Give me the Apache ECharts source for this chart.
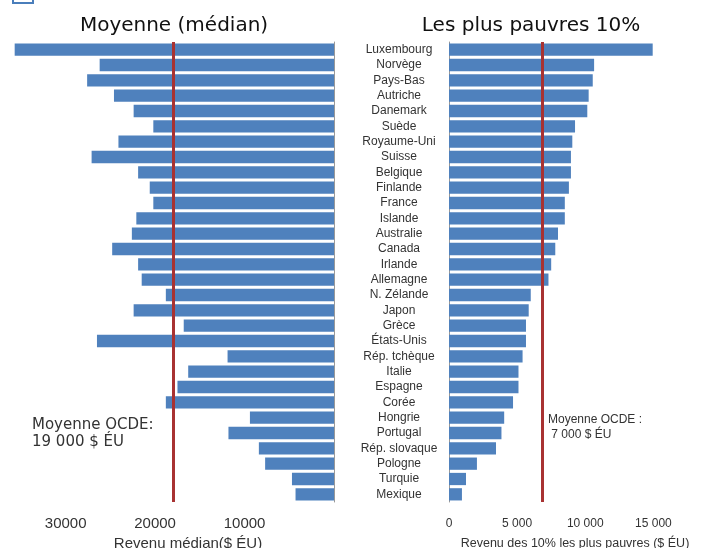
<!DOCTYPE html>
<html>
<head>
<meta charset="utf-8">
<script src="https://cdn.jsdelivr.net/npm/echarts@6/dist/echarts.min.js"></script>
<style>
  html, body { margin: 0; padding: 0; background: #fff; }
  #chart { width: 702px; height: 548px; }
</style>
</head>
<body>
<div id="chart"></div>
<script>
// Countries, top to bottom
const countries = [
  "Luxembourg", "Norvège", "Pays-Bas", "Autriche", "Danemark", "Suède",
  "Royaume-Uni", "Suisse", "Belgique", "Finlande", "France", "Islande",
  "Australie", "Canada", "Irlande", "Allemagne", "N. Zélande", "Japon",
  "Grèce", "États-Unis", "Rép. tchèque", "Italie", "Espagne", "Corée",
  "Hongrie", "Portugal", "Rép. slovaque", "Pologne", "Turquie", "Mexique"
];

// Revenu médian ($ ÉU)
const medianIncome = [
  35700, 26200, 27600, 24600, 22400, 20200,
  24100, 27100, 21900, 20600, 20200, 22100,
  22600, 24800, 21900, 21500, 18800, 22400,
  16800, 26500, 11900, 16300, 17500, 18800,
  9400, 11800, 8400, 7700, 4700, 4300
];

// Revenu des 10% les plus pauvres ($ ÉU)
const poorestIncome = [
  14950, 10650, 10550, 10250, 10150, 9250,
  9050, 8950, 8950, 8800, 8500, 8500,
  8000, 7800, 7500, 7300, 6000, 5850,
  5650, 5650, 5400, 5100, 5100, 4700,
  4050, 3850, 3450, 2050, 1250, 950
];

// OECD average lines
const oecdMedianLine = 18000;
const oecdPoorLine = 6850;

const barColor = "#4f81bd";
const lineColor = "#a83232";
const textColor = "#333";

let dom = document.getElementById("chart");
let myChart = echarts.init(dom, null, { renderer: "canvas" });

const fmtSpace = (v) => String(v).replace(/\B(?=(\d{3})+(?!\d))/g, " ");

let option = {
  animation: false,
  textStyle: { fontFamily: "Liberation Sans, Arial, sans-serif" },
  title: [
    {
      text: "Moyenne (médian)",
      left: 174, top: 16, textAlign: "center", padding: 0,
      textStyle: { fontFamily: "DejaVu Sans", fontSize: 20, fontWeight: "normal", color: "#111" }
    },
    {
      text: "Les plus pauvres 10%",
      left: 531, top: 16, textAlign: "center", padding: 0,
      textStyle: { fontFamily: "DejaVu Sans", fontSize: 20, fontWeight: "normal", color: "#111" }
    }
  ],
  grid: [
    { left: 12, right: 368, top: 42, bottom: 46, outerBoundsMode: "none" },
    { left: 449, right: 35, top: 42, bottom: 46, outerBoundsMode: "none" }
  ],
  xAxis: [
    {
      gridIndex: 0,
      type: "value",
      inverse: true,
      min: 0, max: 36000, interval: 10000,
      axisLine: { show: false },
      axisTick: { show: false },
      splitLine: { show: false },
      axisLabel: {
        margin: 14, fontSize: 15, color: textColor, showMaxLabel: false,
        formatter: (v) => (v === 0 || v > 30000 ? "" : v)
      },
      name: "Revenu médian($ ÉU)",
      nameLocation: "middle",
      nameGap: 32,
      nameTextStyle: { fontSize: 15, color: textColor, padding: [0, 0, 0, 30] }
    },
    {
      gridIndex: 1,
      type: "value",
      min: 0, max: 16000, interval: 5000,
      axisLine: { show: false },
      axisTick: { show: false },
      splitLine: { show: false },
      axisLabel: {
        margin: 16, fontSize: 12, color: textColor, showMaxLabel: false,
        formatter: (v) => (v > 15000 ? "" : fmtSpace(v))
      },
      name: "Revenu des 10% les plus pauvres ($ ÉU)",
      nameLocation: "middle",
      nameGap: 35,
      nameTextStyle: { fontSize: 12.5, color: textColor, padding: [0, 0, 0, 34] }
    }
  ],
  yAxis: [
    {
      gridIndex: 0,
      type: "category",
      data: countries,
      inverse: true,
      position: "right",
      axisLine: { lineStyle: { color: "#999" } },
      axisTick: { length: 3, lineStyle: { color: "#999" } },
      axisLabel: { show: false }
    },
    {
      gridIndex: 1,
      type: "category",
      data: countries,
      inverse: true,
      position: "left",
      axisLine: { lineStyle: { color: "#999" } },
      axisTick: { length: 3, lineStyle: { color: "#999" } },
      axisLabel: { interval: 0, margin: 50, align: "center", fontSize: 12, color: textColor }
    }
  ],
  series: [
    {
      type: "bar",
      xAxisIndex: 0, yAxisIndex: 0,
      data: medianIncome,
      barWidth: "80%",
      itemStyle: { color: barColor },
      markLine: {
        silent: true,
        symbol: "none",
        label: { show: false },
        lineStyle: { color: lineColor, width: 3, type: "solid" },
        data: [{ xAxis: oecdMedianLine }]
      }
    },
    {
      type: "bar",
      xAxisIndex: 1, yAxisIndex: 1,
      data: poorestIncome,
      barWidth: "80%",
      itemStyle: { color: barColor },
      markLine: {
        silent: true,
        symbol: "none",
        label: { show: false },
        lineStyle: { color: lineColor, width: 3, type: "solid" },
        data: [{ xAxis: oecdPoorLine }]
      }
    }
  ],
  graphic: [
    {
      type: "rect",
      shape: { x: 13, y: -18, width: 20, height: 21 },
      style: { fill: "none", stroke: "#4a7ebb", lineWidth: 2 }
    },
    {
      type: "text",
      left: 32, top: 417,
      style: {
        text: "Moyenne OCDE:\n19 000 $ ÉU",
        font: "15px 'DejaVu Sans'",
        fill: textColor,
        lineHeight: 17
      }
    },
    {
      type: "text",
      left: 548, top: 412,
      style: {
        text: "Moyenne OCDE :\n 7 000 $ ÉU",
        font: "12px 'Liberation Sans'",
        fill: textColor,
        lineHeight: 15
      }
    }
  ]
};

myChart.setOption(option);
window.addEventListener("resize", myChart.resize);
</script>
</body>
</html>
